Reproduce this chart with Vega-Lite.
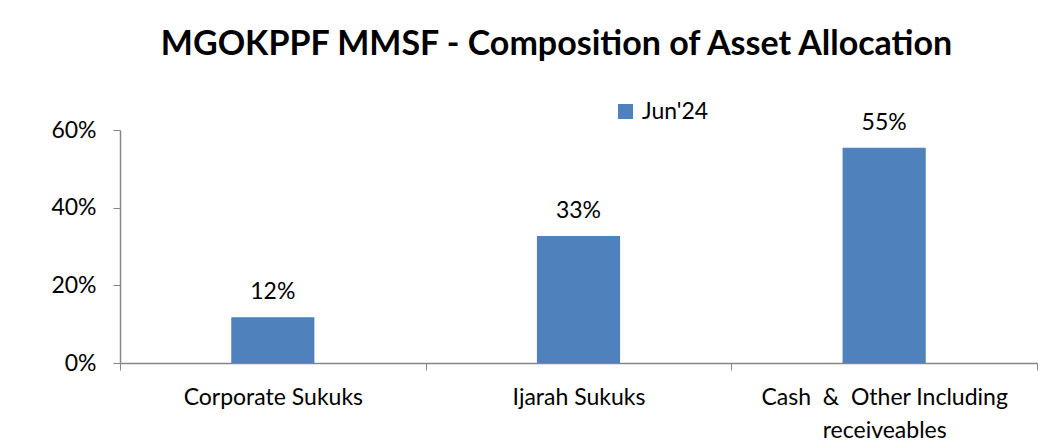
{
  "$schema": "https://vega.github.io/schema/vega-lite/v6.json",
  "width": 917,
  "height": 233,
  "autosize": {"type": "none"},
  "padding": {"left": 120, "top": 130, "right": 15, "bottom": 80},
  "background": "white",
  "title": {
    "text": "MGOKPPF MMSF - Composition of Asset Allocation",
    "font": "Lato",
    "fontSize": 34,
    "fontWeight": "bold",
    "color": "black",
    "anchor": "middle",
    "frame": "group",
    "offset": 38,
    "dx": -22
  },
  "data": {
    "values": [
      {"category": "Corporate Sukuks", "period": "Jun'24", "share": 0.118},
      {"category": "Ijarah Sukuks", "period": "Jun'24", "share": 0.327},
      {"category": "Cash  &  Other Including receiveables", "period": "Jun'24", "share": 0.554}
    ]
  },
  "encoding": {
    "x": {
      "field": "category",
      "type": "nominal",
      "sort": null,
      "scale": {"paddingInner": 0, "paddingOuter": 0},
      "axis": {
        "title": null,
        "labelAngle": 0,
        "tickBand": "extent",
        "tickSize": 7,
        "tickColor": "#868686",
        "domainColor": "#868686",
        "domainWidth": 1.5,
        "labelFont": "Lato",
        "labelFontSize": 23,
        "labelColor": "black",
        "labelPadding": 16,
        "labelLineHeight": 33,
        "labelLimit": 400,
        "labelExpr": "datum.label == 'Cash  &  Other Including receiveables' ? ['Cash\u00a0 &\u00a0 Other Including', 'receiveables'] : datum.label",
        "grid": false
      }
    },
    "y": {
      "field": "share",
      "type": "quantitative",
      "scale": {"domain": [0, 0.6]},
      "axis": {
        "title": null,
        "format": ".0%",
        "values": [0, 0.2, 0.4, 0.6],
        "tickSize": 7,
        "tickColor": "#868686",
        "domainColor": "#868686",
        "domainWidth": 1.5,
        "labelFont": "Lato",
        "labelFontSize": 23,
        "labelColor": "black",
        "labelPadding": 17,
        "grid": false
      }
    }
  },
  "layer": [
    {
      "mark": {"type": "bar", "width": {"band": 0.272}},
      "encoding": {
        "color": {
          "field": "period",
          "type": "nominal",
          "scale": {"range": ["#4F81BD"]},
          "legend": {
            "title": null,
            "orient": "none",
            "legendX": 494,
            "legendY": -30,
            "symbolType": "square",
            "symbolSize": 225,
            "symbolStrokeWidth": 0,
            "labelFont": "Lato",
            "labelFontSize": 23,
            "labelColor": "black",
            "labelOffset": 5
          }
        }
      }
    },
    {
      "mark": {"type": "text", "dy": -18, "baseline": "alphabetic", "font": "Lato", "fontSize": 23, "color": "black"},
      "encoding": {"text": {"field": "share", "type": "quantitative", "format": ".0%"}}
    }
  ],
  "config": {"view": {"stroke": null}}
}
